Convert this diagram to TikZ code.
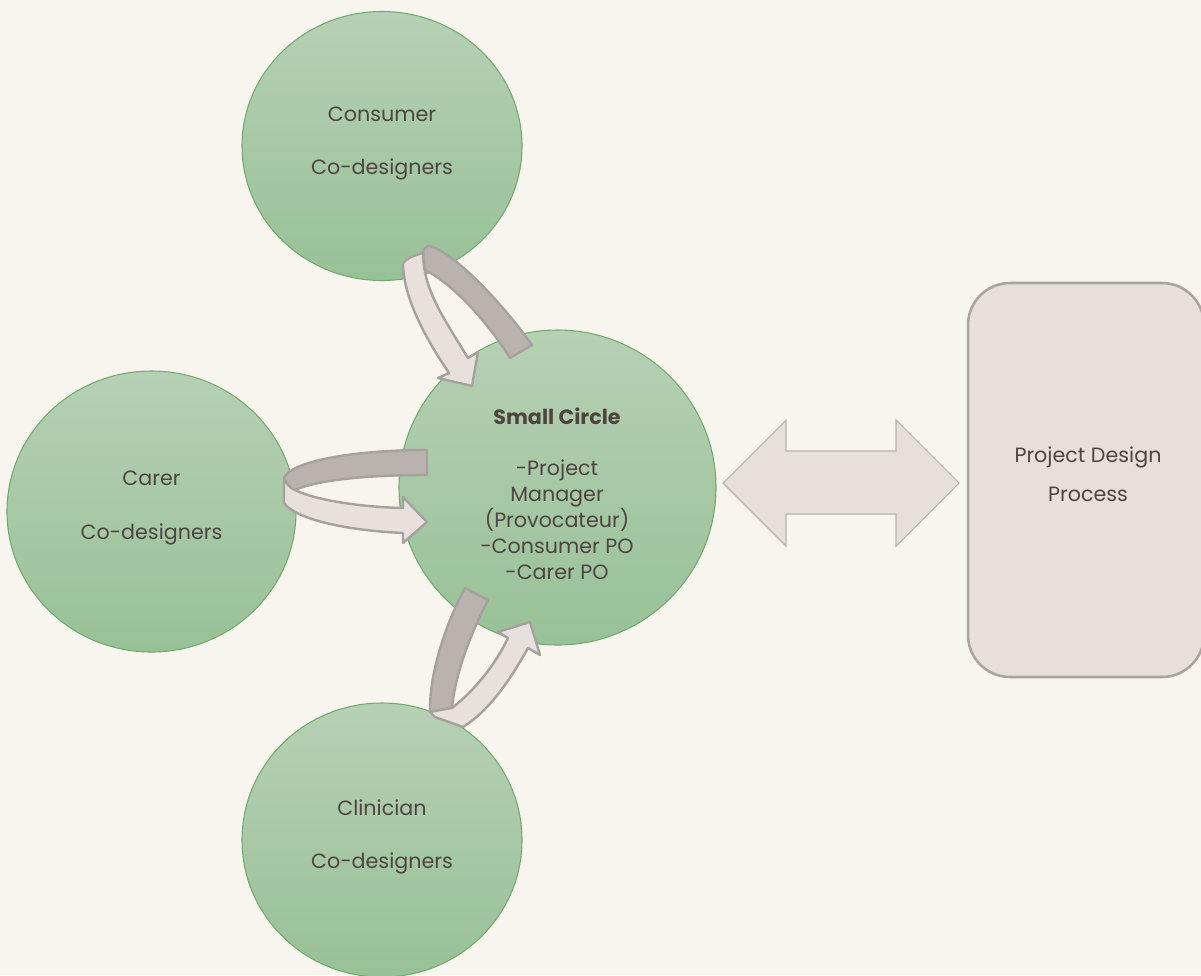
\documentclass[tikz,border=0pt]{standalone}
\usepackage{fontspec}
\setmainfont{Poppins}
\usetikzlibrary{shapes.geometric}
\definecolor{bg}{HTML}{F8F5EF}
\definecolor{gtop}{HTML}{B6D0B4}
\definecolor{gbot}{HTML}{98C197}
\definecolor{gedge}{HTML}{72AA6E}
\definecolor{txt}{HTML}{4E4440}
\definecolor{darkband}{HTML}{B9B2AF}
\definecolor{lightband}{HTML}{E7E0DC}
\definecolor{bandedge}{HTML}{A7A19E}
\definecolor{boxfill}{HTML}{E6DFDB}
\definecolor{boxedge}{HTML}{AAA4A0}
\definecolor{arrfill}{HTML}{E6DFDB}
\definecolor{arredge}{HTML}{B8B1AE}
\tikzset{
  greencirc/.style={ellipse, draw=gedge, line width=0.8pt, top color=gtop, bottom color=gbot, inner sep=0pt},
  lbl/.style={text=txt, font=\fontsize{15.5}{19.5}\selectfont, align=center},
  dband/.style={fill=darkband, draw=bandedge, line width=1.8pt, line join=round},
  lband/.style={fill=lightband, draw=bandedge, line width=1.8pt, line join=round},
  dblarrow/.style={draw=arredge, fill=arrfill, line width=0.8pt},
}
\begin{document}
\begin{tikzpicture}[x=0.75pt,y=-0.75pt]
\useasboundingbox (0,0) rectangle (1201,975);
\fill[bg] (0,0) rectangle (1201,975);
\clip (0,0) rectangle (1201,975);

% circles
\node[greencirc, minimum width=210pt, minimum height=201.75pt] (consumer) at (382,146) {};
\node[greencirc, minimum width=216.75pt, minimum height=210.75pt] (carer) at (151.5,511.5) {};
\node[greencirc, minimum width=237.75pt, minimum height=236.25pt] (small) at (557.5,487.5) {};
\node[greencirc, minimum width=210pt, minimum height=205.5pt] (clinician) at (382,840) {};

\node[lbl] (consumer-t) at (382,143.5) {Consumer\\[20.5pt]Co-designers};
\node[lbl] (carer-t) at (151.5,508) {Carer\\[20.5pt]Co-designers};
\node[lbl] (clinician-t) at (382,837) {Clinician\\[20.5pt]Co-designers};
\node[lbl, font=\fontsize{15.5}{19.5}\selectfont\bfseries] (small-h) at (557,416.5) {Small Circle};
\node[lbl] (small-t) at (557,520) {-Project\\Manager\\(Provocateur)\\-Consumer PO\\-Carer PO};

% process box
\node[draw=boxedge, fill=boxfill, line width=1.9pt, rounded corners=31.5pt, minimum width=177pt, minimum height=295.5pt] (pdp) at (1086,480) {};
\node[lbl] (pdp-t) at (1088,474.5) {Project Design\\[9.5pt]Process};

% double arrow
\coordinate (link) at (841,483);
\draw[dblarrow] (723,483) -- (786,420) -- (786,451) -- (896,451) -- (896,420) -- (959,483)
  -- (896,546) -- (896,514) -- (786,514) -- (786,546) -- cycle;

% top curved arrow (consumer <-> small)
\draw[dband] (423,252) .. controls (424,246) and (429,245) .. (433,247)
  .. controls (455,255) and (500,300) .. (532,345) -- (510,358)
  .. controls (485,318) and (450,282) .. (425,270) -- cycle;
\draw[lband] (403,263) .. controls (403,300) and (430,345) .. (449,373)
  -- (438,378) -- (472,386) -- (478,352) -- (468,358)
  .. controls (445,320) and (423,290) .. (423,253)
  .. controls (415,255) and (407,258) .. cycle;

% left curved arrow (carer <-> small)
\draw[dband] (427,450) .. controls (350,450) and (290,462) .. (284,478)
  .. controls (286,484) and (290,488) .. (295,490)
  .. controls (315,481) and (360,475) .. (427,475) -- cycle;
\draw[lband] (284,478) -- (284,503)
  .. controls (295,518) and (340,530) .. (403,533) -- (403,543) -- (427,522) -- (403,497) -- (403,508)
  .. controls (360,507) and (315,500) .. (295,490)
  .. controls (290,488) and (286,484) .. cycle;

% bottom curved arrow (clinician <-> small)
\draw[dband] (465,588) -- (488,600) .. controls (470,635) and (455,675) .. (452,708)
  -- (430,712) .. controls (429,675) and (445,625) .. cycle;
\draw[lband] (430,712) .. controls (440,710) and (446,709) .. (452,708)
  .. controls (475,690) and (495,665) .. (508,638)
  -- (498,632) -- (530,622) -- (540,655) -- (528,648)
  .. controls (510,680) and (490,710) .. (463,727) -- (435,717) -- cycle;
\end{tikzpicture}
\end{document}
